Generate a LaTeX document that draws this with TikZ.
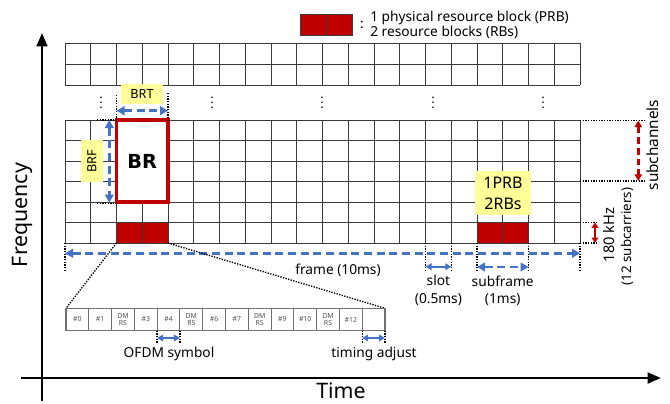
\documentclass[tikz,border=0pt]{standalone}
\usepackage{fontspec}
\setmainfont{Noto Sans}
\newfontfamily\brfont{DejaVu Sans}
\usetikzlibrary{arrows.meta}
\definecolor{prbred}{HTML}{C00000}
\definecolor{arrblue}{HTML}{4472C4}
\definecolor{hlyellow}{HTML}{FFFF99}
\definecolor{gridcol}{HTML}{3A3A3A}
\definecolor{cellcol}{HTML}{707070}
\definecolor{celltext}{HTML}{505050}
\begin{document}
\begin{tikzpicture}[x=0.75pt,y=-0.75pt,
  gridline/.style={draw=gridcol, line width=0.7pt},
  axisline/.style={line width=2pt, -{Triangle[length=10pt,width=8pt]}},
  bluedash/.style={arrblue, line width=1.9pt, dash pattern=on 6pt off 3.5pt,
     {Triangle[length=6pt,width=6.5pt]}-{Triangle[length=6pt,width=6.5pt]}},
  bluesolid/.style={arrblue, line width=1.6pt,
     {Triangle[length=4.5pt,width=5pt]}-{Triangle[length=4.5pt,width=5pt]}},
  reddash/.style={prbred, line width=1.9pt, dash pattern=on 5pt off 3pt,
     {Triangle[length=5pt,width=5.5pt]}-{Triangle[length=5pt,width=5.5pt]}},
  redsolid/.style={prbred, line width=1.6pt,
     {Triangle[length=4pt,width=5pt]}-{Triangle[length=4pt,width=5pt]}},
  guide/.style={black, line width=1pt, dash pattern=on 1pt off 1pt},
  lbl/.style={font=\fontsize{10}{12}\selectfont, inner sep=0pt},
  celllbl/.style={font=\fontsize{5.2}{5.6}\selectfont, text=celltext, align=center, inner sep=0pt},
  big/.style={font=\fontsize{16}{18}\selectfont, inner sep=0pt}
]
\useasboundingbox (0,0) rectangle (670,403);

% axes
\coordinate (yb) at (42,401); \coordinate (yt) at (42,33);
\coordinate (xl) at (21,378); \coordinate (xr) at (661,378);
\draw[axisline] (yb) -- (yt);
\draw[axisline] (xl) -- (xr);
\node[big, rotate=90] (freq) at (22,215) {Frequency};
\node[big] (time) at (341,391) {Time};

% legend
\fill[prbred] (300.7,14) rectangle (352.3,35);
\draw[gridline] (300.7,14) rectangle (352.3,35) (326.5,14) -- (326.5,35);
\node[lbl] (colon) at (362,25) {:};
\node[anchor=west, align=left, font=\fontsize{10.3}{10.2}\selectfont, inner sep=0pt] (legtext) at (370,24.5)
  {1 physical resource block (PRB)\\2 resource blocks (RBs)};

% red cells in main grid
\fill[prbred] (116.5,222.5) rectangle (168,243);
\fill[prbred] (477,222.5) rectangle (528.5,243);

% upper grid
\foreach \i in {0,...,20} \draw[gridline] ({65+\i*25.75},43) -- ({65+\i*25.75},85);
\foreach \j in {0,1,2} \draw[gridline] (65,{43+\j*21}) -- (580,{43+\j*21});

% main grid
\foreach \i in {0,...,20} \draw[gridline] ({65+\i*25.75},120) -- ({65+\i*25.75},243);
\foreach \j in {0,...,6} \draw[gridline] (65,{120+\j*20.5}) -- (580,{120+\j*20.5});

% ellipsis dots
\foreach \x in {101,212,322,433,543}
  \foreach \y in {97.3,102.3,107.3} \fill (\x,\y) circle (0.65pt);

% BR box
\draw[prbred, line width=2.6pt, fill=white] (116.5,120) rectangle (168,202);
\node[font=\brfont\bfseries\fontsize{14.5}{17}\selectfont, inner sep=0pt] (br) at (142.25,161) {BR};

% BRT
\coordinate (brtl) at (116.5,110.7); \coordinate (brtr) at (168,110.7);
\draw[guide] (116.5,95) -- (116.5,120);
\draw[guide] (168,93) -- (168,120);
\fill[hlyellow] (121,84) rectangle (163,104);
\node[font=\fontsize{9.5}{11}\selectfont, inner sep=0pt] (brt) at (142,94) {BRT};
\draw[bluedash] (brtl) -- (brtr);

% BRF
\coordinate (brft) at (109.3,120); \coordinate (brfb) at (109.3,202.5);
\draw[guide] (97,120) -- (116.5,120);
\draw[guide] (97,203.5) -- (116.5,203.5);
\fill[hlyellow] (81,140) rectangle (102.7,181.7);
\node[font=\fontsize{9.5}{11}\selectfont, inner sep=0pt, rotate=90] (brf) at (91.8,161) {BRF};
\draw[bluedash] (brft) -- (brfb);

% 1PRB box
\fill[hlyellow] (475,170.7) rectangle (530.7,215);
\node[align=center, font=\fontsize{12}{15.5}\selectfont, inner sep=0pt] (prb) at (503,193.5) {1PRB\\2RBs};

% subchannels
\coordinate (sct) at (638.3,120.5); \coordinate (scb) at (638.3,181);
\draw[guide] (580,120.5) -- (646,120.5);
\draw[guide] (580,181) -- (646,181);
\draw[reddash] (sct) -- (scb);
\node[font=\fontsize{11.5}{13}\selectfont, inner sep=0pt, rotate=90] (subch) at (653,145) {subchannels};

% 180 kHz
\coordinate (kht) at (595,222.5); \coordinate (khb) at (595,243);
\draw[guide] (580,222.5) -- (598,222.5);
\draw[guide] (580,243) -- (598,243);
\draw[redsolid] (kht) -- (khb);
\node[font=\fontsize{11}{13}\selectfont, inner sep=0pt, rotate=90] (khz) at (609,235) {180 kHz};
\node[lbl, rotate=90] (subc) at (627,236.5) {(12 subcarriers)};

% frame
\coordinate (frl) at (65,253.3); \coordinate (frr) at (580,253.3);
\draw[guide] (65,243) -- (65,270);
\draw[guide] (580,243) -- (580,270);
\draw[bluedash] (frl) -- (frr);
\node[lbl, font=\fontsize{10.3}{12}\selectfont] (frame) at (338,270.5) {frame (10ms)};

% slot
\coordinate (sll) at (425.5,266.7); \coordinate (slr) at (451.25,266.7);
\draw[guide] (425.5,243) -- (425.5,270);
\draw[guide] (451.25,243) -- (451.25,270);
\draw[bluesolid] (sll) -- (slr);
\node[lbl, align=center, font=\fontsize{10.3}{13}\selectfont] (slot) at (438.4,290.5) {slot\\(0.5ms)};

% subframe
\coordinate (sfl) at (477,267); \coordinate (sfr) at (528.5,267);
\draw[guide] (477,243) -- (477,270);
\draw[guide] (528.5,243) -- (528.5,270);
\draw[bluedash] (sfl) -- (sfr);
\node[lbl, align=center, font=\fontsize{10.3}{13}\selectfont] (subframe) at (502.7,290.5) {subframe\\(1ms)};

% zoom lines
\coordinate (zl) at (66,308.3); \coordinate (zr) at (385,308.3);
\coordinate (cl) at (116.5,243); \coordinate (cr) at (168,243);
\draw[guide] (cl) -- (zl);
\draw[guide] (cr) -- (zr);

% OFDM symbols
\foreach \t [count=\k from 0] in {\#0,\#1,DM\\RS,\#3,\#4,DM\\RS,\#6,\#7,DM\\RS,\#9,\#10,DM\\RS,\#12,{}}
  {\draw[draw=cellcol, line width=0.8pt, fill=white] ({66+\k*22.786},308.3) rectangle ({66+(\k+1)*22.786},330.7);
   \node[celllbl] (sym\k) at ({66+(\k+0.5)*22.786},319.5) {\t};}

% OFDM symbol marker
\coordinate (osl) at (157.1,338); \coordinate (osr) at (179.9,338);
\draw[guide] (157.1,330.7) -- (157.1,344);
\draw[guide] (179.9,330.7) -- (179.9,344);
\draw[bluesolid] (osl) -- (osr);
\node[lbl, font=\fontsize{10.3}{12}\selectfont] (ofdm) at (169,354) {OFDM symbol};

% timing adjust marker
\coordinate (tal) at (362.2,338); \coordinate (tar) at (385,338);
\draw[guide] (362.2,330.7) -- (362.2,344);
\draw[guide] (385,330.7) -- (385,344);
\draw[bluesolid] (tal) -- (tar);
\node[lbl, font=\fontsize{10.3}{12}\selectfont] (timing) at (374,354) {timing adjust};
\end{tikzpicture}
\end{document}
